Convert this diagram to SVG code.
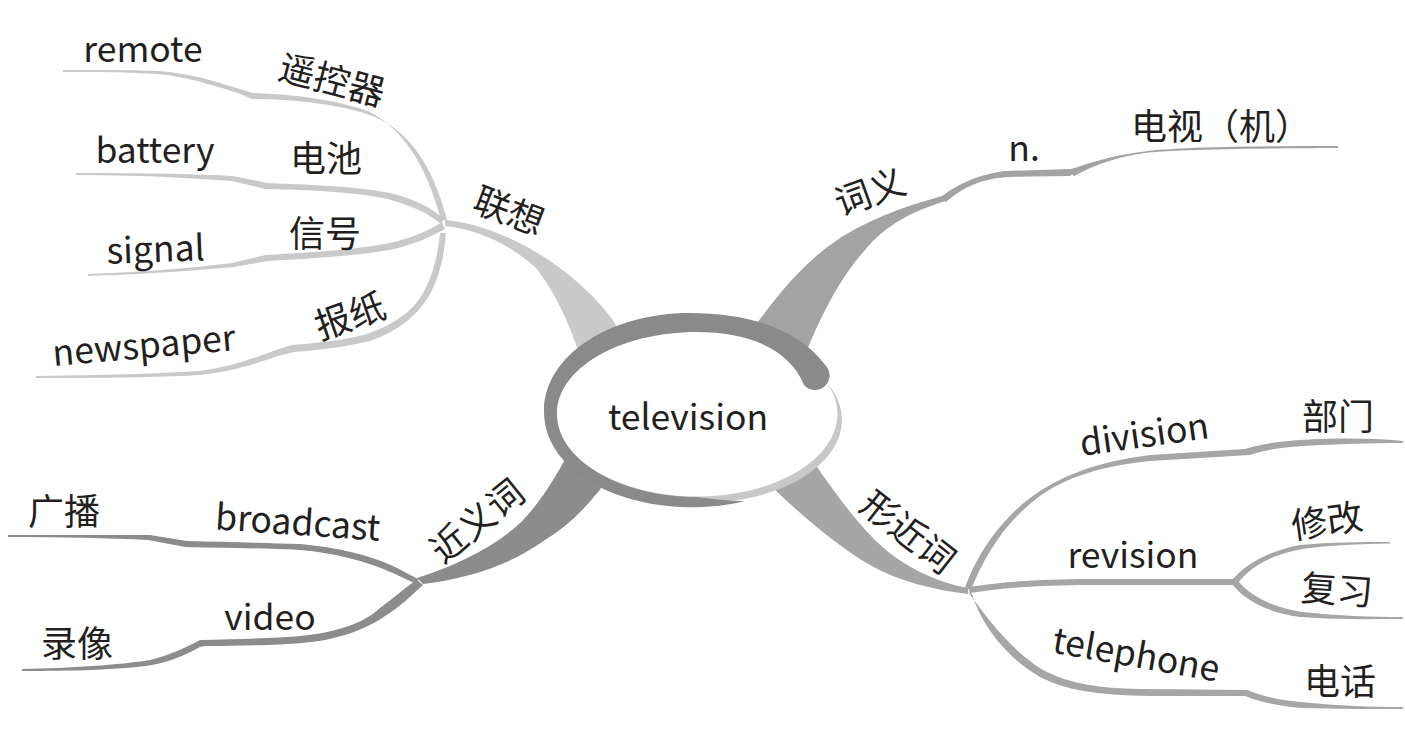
<svg xmlns="http://www.w3.org/2000/svg" width="1405" height="736" viewBox="0 0 1405 736">
<style>
.t{font-family:"Noto Sans CJK SC","Noto Sans",sans-serif;fill:#231f20}
.en{font-size:35.5px}
.zh{font-size:36px}
.l1{fill:#c9c9c9}
.l2{fill:#a3a3a3}
.l3{fill:#8c8c8c}
.l4{fill:#a6a6a6}
</style>
<rect width="1405" height="736" fill="#fff"/>
<g id="connectors">
  <!-- 联想 -->
  <path class="l1" d="M 445,220 C 490,224 540,250 575,280 C 600,302 618,322 630,352 L 582,362 C 572,330 556,292 535,267 C 510,245 480,230 445,226 Z"/>
  <path class="l1" d="M 63,70 C 120,70 150,70 170,72 C 200,76 220,83 240,89 L 253,93 C 290,94 340,100 370,112 C 400,128 425,160 441,220 L 447,220 C 432,162 408,132 375,117 C 345,105 295,99 252,99 L 238,93 C 218,87 198,80 168,75 C 150,73 120,72 63,72 Z"/>
  <path class="l1" d="M 76,173 C 150,173 200,174 233,176 L 267,183 C 320,185 360,187 390,193 C 415,199 432,208 444,219 L 441,224 C 428,213 412,206 388,199 C 360,193 320,190 265,189 L 232,181 C 200,179 150,175 76,175 Z"/>
  <path class="l1" d="M 88,274 C 150,272 200,267 232,263 L 265,255 C 320,252 360,249 390,243 C 415,237 430,230 442,222 L 445,229 C 432,236 418,243 394,249 C 365,255 320,258 268,261 L 234,267 C 200,270 150,274 88,276 Z"/>
  <path class="l1" d="M 36,376 C 120,375 170,373 200,371 C 230,367 255,358 276,350 L 292,345 C 320,343 350,339 367,334 C 395,324 410,312 420,298 C 432,280 438,255 440,233 L 446,233 C 444,258 438,284 425,302 C 412,320 395,332 370,341 C 350,346 320,350 294,352 L 278,356 C 255,364 230,372 200,375 C 170,377 120,378 36,378 Z"/>
  <!-- 词义 -->
  <path class="l2" d="M 745,340 C 780,290 810,255 850,232 C 880,215 910,205 942,196 L 946,201 C 915,210 885,225 865,250 C 845,272 825,305 805,355 Z"/>
  <path class="l2" d="M 941,197 C 955,186 975,175 1005,171 L 1070,169 L 1074,173 L 1070,176 L 1008,177 C 980,179 962,188 946,202 Z"/>
  <path class="l2" d="M 1068,170 C 1090,163 1110,156 1140,152 C 1170,148 1220,146 1338,146 L 1338,148 C 1220,148.5 1170,150 1145,153 C 1115,157 1095,165 1074,176 Z"/>
  <!-- 近义词 -->
  <path class="l3" d="M 417,578 C 455,566 500,545 525,518 C 545,496 560,470 575,440 L 615,468 C 595,500 570,525 545,540 C 510,565 470,578 423,584 Z"/>
  <path class="l3" d="M 8,535 C 60,535 110,535 150,535 L 187,541 C 230,542 270,543 300,544 C 340,548 370,555 395,567 C 405,572 412,576 418,579 L 418,585 C 408,580 398,575 388,571 C 365,561 335,553 300,550 C 260,548 225,548 185,547 L 148,540 C 110,538 60,537 8,537 Z"/>
  <path class="l3" d="M 22,669 C 70,668 120,665 150,660 C 170,655 185,648 200,640 C 240,639 280,638 300,636 C 340,632 365,622 380,608 C 395,597 408,585 417,580 L 423,585 C 412,595 400,607 385,616 C 368,628 340,640 302,643 C 280,645 240,646 205,646 L 200,647 C 185,655 172,661 152,665 C 120,670 70,671 22,671 Z"/>
  <!-- 形近词 -->
  <path class="l4" d="M 798,438 L 805,450 C 830,485 850,515 875,540 C 900,565 935,582 968,588 L 968,594 C 935,590 900,582 870,565 C 840,548 800,515 765,480 L 758,470 Z"/>
  <path class="l4" d="M 965,588 C 975,560 995,525 1030,498 C 1060,476 1095,462 1150,455 L 1245,449 C 1255,446 1270,442 1300,440 C 1340,438 1370,438 1403,441 L 1403,443 C 1370,443 1340,444 1302,446 C 1275,448 1262,451 1250,455 L 1150,461 C 1100,466 1065,478 1040,496 C 1005,522 985,555 971,590 Z"/>
  <path class="l4" d="M 968,587 C 1000,582 1040,579 1090,579 L 1233,579 L 1236,582 L 1233,585 L 1090,585 C 1040,585 1000,588 970,593 Z"/>
  <path class="l4" d="M 1232,580 C 1245,565 1265,552 1300,545 C 1330,542 1360,542 1390,542 L 1390,543.5 C 1360,544 1330,545 1302,549 C 1270,555 1250,567 1238,583 Z"/>
  <path class="l4" d="M 1238,581 C 1250,595 1270,607 1302,612 C 1340,616 1370,617 1403,617 L 1403,619 C 1370,619 1340,620 1300,617 C 1265,612 1245,600 1232,584 Z"/>
  <path class="l4" d="M 968,592 C 985,615 1010,650 1043,670 C 1070,684 1100,689 1150,689 L 1247,690 C 1260,695 1275,700 1300,702 C 1340,706 1370,707 1403,707 L 1403,709 C 1370,709 1340,709 1300,708 C 1275,706 1258,701 1245,696 L 1150,696 C 1095,695 1065,690 1040,677 C 1005,657 980,622 972,594 Z"/>
</g>
<g id="node-television">
  <ellipse cx="701" cy="420" rx="141" ry="83" fill="#c8c8c8"/>
  <ellipse cx="697" cy="414" rx="140.5" ry="82.5" fill="#fff"/>
  <path fill="#8a8a8a" d="M 826,366 C 800,330 750,313 690,313 C 610,313 545,355 544,410 C 543,465 605,503 680,507 C 705,508 725,506 745,501 C 728,501 712,499 697,497 C 620,497 557,460 557,414 C 557,368 620,332 697,332 C 750,332 790,350 804,385 A 14.5,14.5 0 0 0 826,366 Z"/>
  <text class="t en" x="688" y="430" text-anchor="middle">television</text>
</g>
<g id="node-lianxiang"><text class="t zh" text-anchor="middle" transform="translate(509,211) rotate(21)" y="13">联想</text></g>
<g id="node-remote"><text class="t en" x="143" y="62" text-anchor="middle">remote</text></g>
<g id="node-yaokongqi"><text class="t zh" text-anchor="middle" transform="translate(332,80) rotate(15)" y="13">遥控器</text></g>
<g id="node-battery"><text class="t en" x="155" y="163" text-anchor="middle">battery</text></g>
<g id="node-dianchi"><text class="t zh" x="326" y="172" text-anchor="middle">电池</text></g>
<g id="node-signal"><text class="t en" text-anchor="middle" transform="translate(156,262) rotate(-2)">signal</text></g>
<g id="node-xinhao"><text class="t zh" x="325" y="247" text-anchor="middle">信号</text></g>
<g id="node-newspaper"><text class="t en" text-anchor="middle" transform="translate(145,358) rotate(-5)">newspaper</text></g>
<g id="node-baozhi"><text class="t zh" text-anchor="middle" transform="translate(350,316) rotate(-19)" y="13">报纸</text></g>
<g id="node-ciyi"><text class="t zh" text-anchor="middle" transform="translate(870,192) rotate(-20)" y="13">词义</text></g>
<g id="node-n"><text class="t en" x="1024" y="161" text-anchor="middle">n.</text></g>
<g id="node-dianshi"><text class="t zh" x="1131" y="140">电视（机）</text></g>
<g id="node-jinyici"><text class="t zh" text-anchor="middle" transform="translate(477,521) rotate(-39)" y="13">近义词</text></g>
<g id="node-guangbo"><text class="t zh" x="64" y="525" text-anchor="middle">广播</text></g>
<g id="node-broadcast"><text class="t en" text-anchor="middle" transform="translate(297,535) rotate(4)">broadcast</text></g>
<g id="node-video"><text class="t en" x="270" y="630" text-anchor="middle">video</text></g>
<g id="node-luxiang"><text class="t zh" x="77" y="657" text-anchor="middle">录像</text></g>
<g id="node-xingjinci"><text class="t zh" text-anchor="middle" transform="translate(908,532) rotate(38)" y="13">形近词</text></g>
<g id="node-division"><text class="t en" text-anchor="middle" transform="translate(1146,447) rotate(-8)">division</text></g>
<g id="node-bumen"><text class="t zh" x="1338" y="430" text-anchor="middle">部门</text></g>
<g id="node-revision"><text class="t en" x="1133" y="568" text-anchor="middle">revision</text></g>
<g id="node-xiugai"><text class="t zh" text-anchor="middle" transform="translate(1327,521) rotate(-8)" y="13">修改</text></g>
<g id="node-fuxi"><text class="t zh" text-anchor="middle" transform="translate(1337,590) rotate(4)" y="13">复习</text></g>
<g id="node-telephone"><text class="t en" text-anchor="middle" transform="translate(1134,667) rotate(10)">telephone</text></g>
<g id="node-dianhua"><text class="t zh" x="1340" y="695" text-anchor="middle">电话</text></g>
</svg>
